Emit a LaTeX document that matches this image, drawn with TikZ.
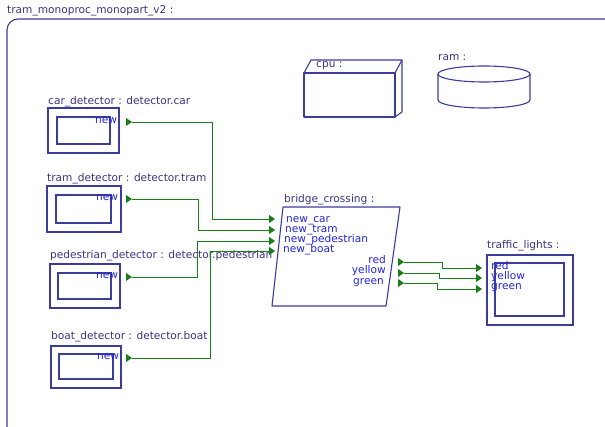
\documentclass[tikz,border=0pt]{standalone}
\usepackage{fontspec}
\setmainfont{DejaVu Sans}
\usetikzlibrary{arrows.meta}
\definecolor{boxc}{RGB}{60,60,155}
\definecolor{txtc}{RGB}{60,50,135}
\definecolor{portc}{RGB}{35,35,225}
\definecolor{lgreen}{RGB}{25,125,25}
\tikzset{
  box/.style={draw=boxc, line width=1.1pt},
  lbl/.style={anchor=base west, inner sep=0pt, text=txtc, font=\fontsize{10.6}{12}\selectfont},
  plbl/.style={anchor=base west, inner sep=0pt, text=portc, font=\fontsize{10.6}{12}\selectfont},
  plblr/.style={anchor=base east, inner sep=0pt, text=portc, font=\fontsize{10.6}{12}\selectfont},
  conn/.style={draw=lgreen, line width=0.9pt, -{Triangle[width=8pt,length=6pt]}},
  porttri/.pic={\fill[lgreen] (-6,-4) -- (0,0) -- (-6,4) -- cycle;}
}
\begin{document}
\begin{tikzpicture}[x=1pt,y=-1pt]
\useasboundingbox (0,0) rectangle (605,427);
\fill[white] (0,0) rectangle (605,427);
\begin{scope}
\clip (0,0) rectangle (605,427);
\node[lbl] (title) at (7,14) {tram\_monoproc\_monopart\_v2 :};
\draw[boxc, line width=1.1pt, rounded corners=11pt] (7,19) rectangle (625,447);

% detectors
\node[lbl] (carlbl) at (48,105) {car\_detector : detector.car};
\draw[box] (48,108) rectangle (119,153);
\draw[box] (57,117) rectangle (110,144);
\node[plbl] (carnew) at (95,124) {new};

\node[lbl] (tramlbl) at (47,182) {tram\_detector : detector.tram};
\draw[box] (47,186) rectangle (121,232);
\draw[box] (56,195) rectangle (111,223);
\node[plbl] (tramnew) at (96,201) {new};

\node[lbl] (pedlbl) at (50,259) {pedestrian\_detector : detector.pedestrian};
\draw[box] (50,264) rectangle (120,308);
\draw[box] (58,273) rectangle (111,299);
\node[plbl] (pednew) at (96,279) {new};

\node[lbl] (boatlbl) at (51,340) {boat\_detector : detector.boat};
\draw[box] (51,346) rectangle (121,388);
\draw[box] (59,354) rectangle (113,379);
\node[plbl] (boatnew) at (97,360) {new};

% cpu
\draw[box, line join=round] (304,73) rectangle (395,117);
\draw[box, line join=round] (304,73) -- (311,60) -- (402,60) -- (395,73);
\draw[box, line join=round] (402,60) -- (402,112) -- (395,117);
\node[lbl] (cpulbl) at (316,68) {cpu :};

% ram
\node[lbl] (ramlbl) at (438,61) {ram :};
\draw[box] (484,74) ellipse [x radius=46pt, y radius=8pt];
\draw[box] (438,74) -- (438,100) arc[start angle=180, end angle=360, x radius=46pt, y radius=8pt] -- (530,74);

% bridge crossing
\node[lbl] (bclbl) at (284,203) {bridge\_crossing :};
\draw[box, line join=round] (283,207) -- (400,207) -- (386,306) -- (272,306) -- cycle;
\node[plbl] (bcn1) at (286,223) {new\_car};
\node[plbl] (bcn2) at (285,233) {new\_tram};
\node[plbl] (bcn3) at (284,243) {new\_pedestrian};
\node[plbl] (bcn4) at (283,253) {new\_boat};
\node[plblr] (bcred) at (386,264) {red};
\node[plblr] (bcyel) at (386,274) {yellow};
\node[plblr] (bcgrn) at (384,285) {green};

% traffic lights
\node[lbl] (tllbl) at (487,249) {traffic\_lights :};
\draw[box] (487,255) rectangle (573,325);
\draw[box] (495,263) rectangle (564,316);
\node[plbl] (tlred) at (491,270) {red};
\node[plbl] (tlyel) at (491,280) {yellow};
\node[plbl] (tlgrn) at (491,290) {green};

% ports
\coordinate (car_o) at (132,122);
\coordinate (tram_o) at (132,199);
\coordinate (ped_o) at (132,277);
\coordinate (boat_o) at (132,358);
\coordinate (bc_car) at (275,219);
\coordinate (bc_tram) at (275,230);
\coordinate (bc_ped) at (275,241);
\coordinate (bc_boat) at (275,251);
\coordinate (bc_red) at (404,262);
\coordinate (bc_yel) at (404,273);
\coordinate (bc_grn) at (404,283);
\coordinate (tl_red) at (482,268);
\coordinate (tl_yel) at (482,278);
\coordinate (tl_grn) at (482,289);
\foreach \p in {car_o,tram_o,ped_o,boat_o,bc_red,bc_yel,bc_grn}
  \pic at (\p) {porttri};

\draw[conn] (car_o) -- (212,122) |- (bc_car);
\draw[conn] (tram_o) -- (198,199) |- (bc_tram);
\draw[conn] (ped_o) -- (197,277) |- (bc_ped);
\draw[conn] (boat_o) -- (210,358) |- (bc_boat);
\draw[conn] (bc_red) -- (442,262) |- (tl_red);
\draw[conn] (bc_yel) -- (439,273) |- (tl_yel);
\draw[conn] (bc_grn) -- (437,283) |- (tl_grn);
\end{scope}
\end{tikzpicture}
\end{document}
